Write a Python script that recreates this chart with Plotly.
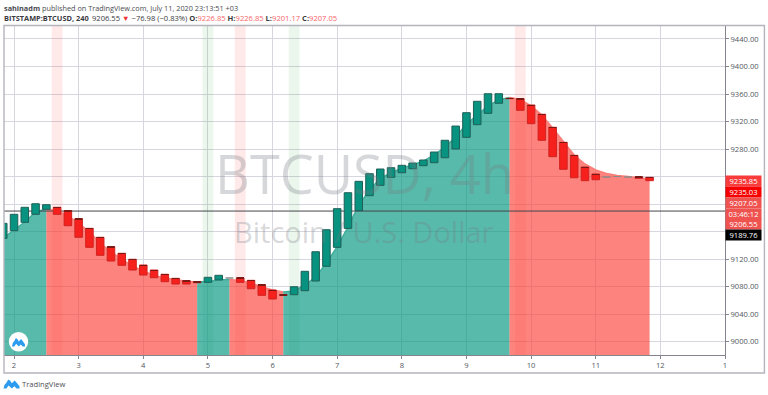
import plotly.graph_objects as go

# ---- data ----
first_index = -1
candles_per_day = 6
open_values = [9150.1,9161.2,9173.4,9185.0,9192.3,9195.2,9190.3,9178.6,9164.6,9151.6,9137.9,9128.3,9119.6,9111.3,9104.0,
               9097.8,9091.9,9088.4,9087.0,9086.1,9089.5,9092.4,9092.4,9089.0,9082.6,9074.9,9068.1,9068.1,9073.9,9088.0,
               9109.4,9137.0,9164.6,9190.3,9212.1,9227.2,9238.8,9245.5,9251.3,9255.7,9260.1,9267.3,9280.0,9297.0,9315.4,
               9331.9,9346.5,9353.7,9353.1,9344.0,9330.5,9311.6,9289.7,9270.8,9253.8,9243.6,9239.3,9240.0,9239.3,9239.3,9238.8]
close_values = [9171.9,9185.0,9195.2,9200.4,9199.0,9185.0,9168.4,9151.6,9137.0,9125.4,9117.1,9110.8,9104.0,9096.7,9092.8,
                9087.0,9083.6,9083.6,9085.5,9093.4,9096.3,9092.4,9086.1,9076.8,9067.2,9061.8,9067.4,9079.7,9102.1,9130.6,
                9162.6,9193.2,9216.4,9233.0,9244.1,9250.9,9252.8,9256.3,9259.6,9264.0,9275.6,9292.7,9313.4,9332.8,9349.4,
                9360.4,9360.4,9353.2,9336.3,9316.8,9292.7,9268.8,9250.5,9238.2,9233.9,9235.3,9239.3,9240.0,9239.3,9237.4,9233.9]
smooth_values = [9150.6,9162.2,9173.8,9188.4,9192.7,9190.6,9182.6,9172.4,9159.3,9143.3,9130.2,9120.0,9109.8,9102.6,9096.0,
                 9092.4,9089.5,9087.6,9086.6,9087.3,9089.5,9090.2,9088.7,9085.1,9079.3,9074.9,9072.0,9073.5,9082.2,9093.8,
                 9114.2,9137.9,9166.5,9198.5,9220.3,9237.8,9245.1,9252.4,9256.7,9262.5,9271.3,9282.9,9297.5,9316.4,9329.5,
                 9342.6,9351.3,9354.9,9352.0,9342.6,9329.5,9310.6,9290.2,9271.3,9258.2,9249.5,9244.4,9241.5,9240.0,9238.6,9236.4]
# turning points of the smoothed area: (first index, last index, direction)
area_segments = [(-1, 3, "up"), (3, 17, "down"), (17, 20, "up"), (20, 25, "down"), (25, 46, "up"), (46, 59, "down")]
down_bands = [4, 21, 47]
up_bands = [18, 26]
y_ticks = [9000, 9040, 9080, 9120, 9160, 9200, 9240, 9280, 9320, 9360, 9400, 9440]
y_labels = ["9000.00", "9040.00", "9080.00", "9120.00", "", "", "", "9280.00", "9320.00", "9360.00", "9400.00", "9440.00"]
x_ticks = [2, 3, 4, 5, 6, 7, 8, 9, 10, 11, 12, 13]
x_labels = ["2", "3", "4", "5", "6", "7", "8", "9", "10", "11", "12", "1"]
last_line_value = 9189.76
price_tags = [("9235.85", "#f83c3c", 180.5), ("9235.03", "#f60000", 191.5), ("9207.05", "#ef5350", 202.5),
              ("03:46:12", "#ef5350", 213.7), ("9206.55", "#ef5350", 223.7), ("9189.76", "#000000", 235.3)]

# ---- geometry ----
L, R, T, B = 4, 724.6, 26, 355
W, H = 768, 395
X_RANGE = [1.845, 13.0]
Y_RANGE = [8980.4, 9458.9]
FONT = "Open Sans"
px = lambda x: (x - L) / (R - L)
py = lambda y: (B - y) / (B - T)
day = lambda k: 2 + k / candles_per_day

indices = list(range(first_index, first_index + len(open_values)))
days = [day(k) for k in indices]
by_index = dict(zip(indices, smooth_values))

fig = go.Figure()

# highlight columns
for bands, col in ((down_bands, "rgba(255,82,82,0.13)"), (up_bands, "rgba(76,175,80,0.11)")):
    fig.add_trace(go.Bar(x=[day(k) for k in bands], y=[Y_RANGE[1] - Y_RANGE[0]] * len(bands), base=Y_RANGE[0],
                         width=1 / candles_per_day, marker=dict(color=col, line_width=0), hoverinfo="skip"))

# filled area
AREA = {"up": ("rgba(8,153,129,0.68)", "#3fae9d"), "down": ("rgba(252,60,50,0.63)", "#fb7e78")}
for a, b, d in area_segments:
    ks = list(range(a, b + 1))
    fig.add_trace(go.Scatter(x=[day(k) for k in ks], y=[by_index[k] for k in ks], mode="lines",
                             line=dict(color=AREA[d][1], width=1.5), fill="tozeroy", fillcolor=AREA[d][0],
                             hoverinfo="skip"))

# last price line
fig.add_trace(go.Scatter(x=X_RANGE, y=[last_line_value] * 2, mode="lines", line=dict(color="#46464c", width=1),
                         hoverinfo="skip"))

# candles on an overlaying axis pair, so they sit above the area
colors, edges, bases, heights, cap_x, cap_base = [], [], [], [], [], []
for d, o, c in zip(days, open_values, close_values):
    if o == c:
        colors.append("#8a8a8a"); edges.append("#8a8a8a")
    elif c > o:
        colors.append("#07937f"); edges.append("#1f5f58")
    else:
        colors.append("#f6201c"); edges.append("#d02320")
        cap_x.append(d); cap_base.append(o - 0.8)
    bases.append(min(o, c))
    heights.append(abs(c - o))
fig.add_trace(go.Bar(x=days, y=heights, base=bases, width=0.7 / candles_per_day, xaxis="x2", yaxis="y2",
                     marker=dict(color=colors, line=dict(color=edges, width=1)), hoverinfo="skip"))
# the dark upper edge of the falling candles
fig.add_trace(go.Bar(x=cap_x, y=[0.8] * len(cap_x), base=cap_base, width=0.7 / candles_per_day, xaxis="x2", yaxis="y2",
                     marker=dict(color="#7a1a16", line_width=0), hoverinfo="skip"))

grid = "#d6d6de"
axis_font = dict(family=FONT, size=7.6, color="#55585f")
fig.update_layout(
    width=W, height=H, autosize=False, showlegend=False, barmode="overlay",
    paper_bgcolor="white", plot_bgcolor="white",
    margin=dict(l=L, r=W - R, t=T, b=H - B),
    xaxis=dict(range=X_RANGE, tickmode="array", tickvals=x_ticks, ticktext=x_labels, showgrid=True, gridcolor=grid,
               gridwidth=1.2, zeroline=False, showline=True, linecolor="#85858f", linewidth=1, ticks="outside",
               ticklen=3, tickcolor="#85858f", tickfont=axis_font),
    yaxis=dict(range=Y_RANGE, side="right", tickmode="array", tickvals=y_ticks, ticktext=y_labels,
               showgrid=True, gridcolor=grid, gridwidth=1.2, zeroline=False, showline=True, linecolor="#85858f",
               linewidth=1, ticks="outside", ticklen=3, tickcolor="#85858f", tickfont=axis_font),
    xaxis2=dict(range=X_RANGE, overlaying="x", visible=False),
    yaxis2=dict(range=Y_RANGE, overlaying="y", visible=False),
)

ann = []
def text(x, y, s, size, color, anchor="left", **kw):
    ann.append(dict(xref="paper", yref="paper", x=px(x), y=py(y), text=s, showarrow=False, xanchor=anchor,
                    yanchor="middle", font=dict(family=FONT, size=size, color=color), borderpad=0, **kw))

red = "#f7656a"
text(3, 7.5, "<b>sahinadm</b> published on TradingView.com, July 11, 2020 23:13:51 +03", 7.3, "#4a4a50")
text(3, 17.7, "<b>BITSTAMP:BTCUSD, 240</b>", 7.4, "#3a3a40")
text(91, 17.7,
     f"9206.55 <span style='color:#f23030'>▼</span> −76.98 (−0.83%) "
     f"<b>O:</b><span style='color:{red}'>9226.85</span> <b>H:</b><span style='color:{red}'>9226.85</span> "
     f"<b>L:</b><span style='color:{red}'>9201.17</span> <b>C:</b><span style='color:{red}'>9207.05</span>",
     7.6, "#3a3a40")
text(364, 173, "BTCUSD, 4h", 54, "rgba(120,123,134,0.30)", anchor="center")
text(364, 231, "Bitcoin / U.S. Dollar", 29, "rgba(120,123,134,0.30)", anchor="center")
text(21, 384, "TradingView", 7.6, "#4f4f55")
for s, col, yc in price_tags:
    text(724.5, yc, s, 7.6, "white", width=35, height=10, bgcolor=col, align="center")
fig.update_layout(annotations=ann)

def logo(x0, y0, w, h, col):
    pts = [(0, 1), (.06, .6), (.18, .35), (.3, 0), (.42, .15), (.52, .42), (.7, .12), (.85, .42), (1, .75), (1, 1),
           (.82, 1), (.68, .75), (.52, 1), (.32, .68), (.18, 1)]
    return dict(type="path", xref="paper", yref="paper", layer="above", fillcolor=col, line_width=0,
                path="M " + " L ".join(f"{px(x0 + a * w):.5f},{py(y0 + b * h):.5f}" for a, b in pts) + " Z")

shapes = [
    dict(type="rect", xref="paper", yref="paper", x0=px(4), x1=px(764), y0=py(373), y1=py(25.5),
         line=dict(color="#b4b4bc", width=1.4), fillcolor="rgba(0,0,0,0)", layer="above"),
    dict(type="circle", xref="paper", yref="paper", x0=px(8.8), x1=px(28.2), y0=py(351.5), y1=py(332),
         fillcolor="white", line_width=0, layer="above"),
    logo(12, 338, 13, 8.5, "#2d9cf0"),
    logo(3.5, 379.5, 16, 9, "#2d9cf0"),
]
fig.update_layout(shapes=shapes)

fig.write_html("out.html", config={"displayModeBar": False},
               post_script="document.body.style.margin='0';document.documentElement.style.overflow='hidden';")
